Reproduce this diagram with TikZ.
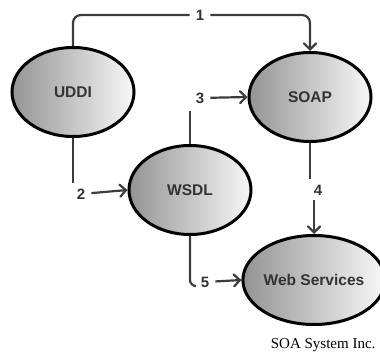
\documentclass[tikz,border=0pt]{standalone}
\usepackage{fontspec}
\setmainfont{Liberation Serif}
\newfontfamily\diagfont{Liberation Sans}
\usetikzlibrary{shapes.geometric,arrows.meta}
\definecolor{linegray}{HTML}{3C3C3C}
\definecolor{textgray}{HTML}{333333}
\begin{document}
\begin{tikzpicture}[x=1pt,y=-1pt,
    comp/.style={ellipse,draw=black,line width=3pt,minimum width=122pt,minimum height=89pt,inner sep=0pt,
      left color=black!42,right color=black!3,font=\diagfont\fontsize{15.5}{15.5}\selectfont\bfseries,text=textgray},
    lbl/.style={inner xsep=6pt,inner ysep=5pt,font=\diagfont\fontsize{15}{15}\selectfont\bfseries,text=textgray},
    conn/.style={draw=linegray,line width=2.2pt},
    arr/.style={conn,-{Straight Barb[length=6pt,width=12pt,line cap=round]}}]

       \useasboundingbox (0,0) rectangle (380,353);

       \node[comp] (uddi) at (73,92) {UDDI};
       \node[comp] (soap) at (310,97) {SOAP};
       \node[comp] (wsdl) at (190,190) {WSDL};
       \node[comp] (ws) at (314,280) {Web Services};

       \node[lbl] (l1) at (200,15) {1};
       \node[lbl] (l2) at (81,194) {2};
       \node[lbl] (l3) at (200,98) {3};
       \node[lbl] (l4) at (318,190) {4};
       \node[lbl] (l5) at (205,282) {5};

       \draw[conn,rounded corners=8pt] (uddi.north) |- (l1.west);
       \draw[arr,rounded corners=8pt] (l1.east) -| (soap.north);
       \draw[conn,shorten >=1pt] (uddi.south) -- (uddi.south |- l2.north);
       \draw[arr] (l2) -- (wsdl.west);
       \draw[conn,shorten >=2pt] (wsdl.north) -- (wsdl.north |- l3.south);
       \draw[arr] (l3) -- (soap.west);
       \draw[conn,shorten >=1pt] (soap.south) -- (soap.south |- l4.north);
       \draw[arr] (ws.north |- l4.south) -- (ws.north);
       \draw[conn,rounded corners=6pt] (wsdl.south) |- ([yshift=-4pt]l5.west);
       \draw[arr] (l5) -- (ws.west);

       \node[anchor=east,font=\fontsize{15}{15}\selectfont] (credit) at (379,345) {SOA System Inc.};
     \end{tikzpicture}
\end{document}
